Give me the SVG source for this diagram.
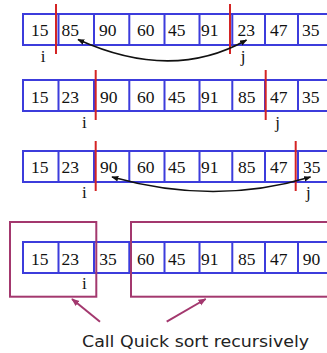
<svg xmlns="http://www.w3.org/2000/svg" width="327" height="353" viewBox="0 0 327 353">
  <style>
    .cell { fill: #ffffff; stroke: #3c3cdc; stroke-width: 2; }
    .div { stroke: #3c3cdc; stroke-width: 2; }
    .num { font-family: "Liberation Serif", "Times New Roman", Times, serif; font-size: 17.5px; fill: #111111; }
    .idx { font-family: "Liberation Serif", "Times New Roman", Times, serif; font-size: 17px; fill: #111111; text-anchor: middle; }
    .ptr { stroke: #d42424; stroke-width: 2; }
    .swap { fill: none; stroke: #111111; stroke-width: 1.6; }
    .part { fill: none; stroke: #a3386e; stroke-width: 2; }
    .call { stroke: #a3386e; stroke-width: 2; }
    .note { font-family: "Comic Sans MS", "DejaVu Sans", sans-serif; font-size: 16px; fill: #222222; }
  </style>
  <defs>
    <marker id="head" viewBox="0 0 10 10" refX="9" refY="5" markerWidth="7" markerHeight="7" markerUnits="userSpaceOnUse" orient="auto-start-reverse">
      <path d="M0,1 L10,5 L0,9 z" fill="#111111"/>
    </marker>
    <marker id="headM" viewBox="0 0 10 10" refX="9" refY="5" markerWidth="8" markerHeight="8" markerUnits="userSpaceOnUse" orient="auto">
      <path d="M0,1 L10,5 L0,9 z" fill="#a3386e"/>
    </marker>
    <!-- array of nine cells, drawn at the origin -->
    <g id="array">
      <rect class="cell" x="23" y="0" width="310" height="31"/>
      <path class="div" d="M58.5,0 V31 M94,0 V31 M129.3,0 V31 M164.5,0 V31 M199.5,0 V31 M232.3,0 V31 M265,0 V31 M298,0 V31"/>
    </g>
  </defs>

  <!-- row 1: 15 85 90 60 45 91 23 47 35 -->
  <g id="row1">
    <use href="#array" y="14"/>
    <text class="num" font-family="Liberation Serif, serif" y="36"><tspan x="31">15</tspan><tspan x="61.5">85</tspan><tspan x="99">90</tspan><tspan x="137">60</tspan><tspan x="168">45</tspan><tspan x="201">91</tspan><tspan x="237.5">23</tspan><tspan x="270">47</tspan><tspan x="302">35</tspan></text>
    <line class="ptr" x1="56" y1="4" x2="56" y2="54"/>
    <line class="ptr" x1="230" y1="4" x2="230" y2="54"/>
    <text class="idx" x="43" y="62">i</text>
    <text class="idx" x="243" y="62">j</text>
  </g>

  <!-- row 2: 15 23 90 60 45 91 85 47 35 -->
  <g id="row2">
    <use href="#array" y="80"/>
    <text class="num" y="102.5"><tspan x="31">15</tspan><tspan x="61.5">23</tspan><tspan x="100">90</tspan><tspan x="137">60</tspan><tspan x="168">45</tspan><tspan x="201">91</tspan><tspan x="238">85</tspan><tspan x="270">47</tspan><tspan x="302">35</tspan></text>
    <line class="ptr" x1="95.7" y1="70" x2="95.7" y2="120"/>
    <line class="ptr" x1="265.7" y1="70" x2="265.7" y2="120"/>
    <text class="idx" x="84.3" y="127.5">i</text>
    <text class="idx" x="277.7" y="127.5">j</text>
  </g>

  <!-- row 3: 15 23 90 60 45 91 85 47 35 -->
  <g id="row3">
    <use href="#array" y="151"/>
    <text class="num" y="173"><tspan x="31">15</tspan><tspan x="61.5">23</tspan><tspan x="100">90</tspan><tspan x="137">60</tspan><tspan x="168">45</tspan><tspan x="201">91</tspan><tspan x="238">85</tspan><tspan x="270">47</tspan><tspan x="303">35</tspan></text>
    <line class="ptr" x1="95.7" y1="141" x2="95.7" y2="191"/>
    <line class="ptr" x1="295.7" y1="141" x2="295.7" y2="191"/>
    <text class="idx" x="84.3" y="197.5">i</text>
    <text class="idx" x="308.3" y="197.5">j</text>
  </g>

  <!-- row 4: 15 23 35 60 45 91 85 47 90 -->
  <g id="row4">
    <use href="#array" y="242"/>
    <text class="num" y="264.5"><tspan x="31">15</tspan><tspan x="61.5">23</tspan><tspan x="99.3">35</tspan><tspan x="137">60</tspan><tspan x="168">45</tspan><tspan x="201">91</tspan><tspan x="238">85</tspan><tspan x="270">47</tspan><tspan x="302.7">90</tspan></text>
    <text class="idx" x="84.3" y="289">i</text>
  </g>

  <!-- sub-arrays handed to the recursive calls -->
  <g id="left-part">
    <rect class="part" x="10" y="222" width="86.3" height="74.7"/>
  </g>
  <g id="right-part">
    <rect class="part" x="131" y="222" width="210" height="74.7"/>
  </g>

  <g id="note">
    <text class="note" x="82" y="346.7" textLength="227" lengthAdjust="spacingAndGlyphs">Call Quick sort recursively</text>
  </g>

  <!-- connectors: swap arrows and call pointers -->
  <g id="connectors">
    <path class="swap" d="M78,39.5 Q172,82 246.5,40" marker-start="url(#head)" marker-end="url(#head)"/>
    <path class="swap" d="M112,177 Q215,206 310.5,177" marker-start="url(#head)" marker-end="url(#head)"/>
    <line class="call" x1="100" y1="321.7" x2="72" y2="299" marker-end="url(#headM)"/>
    <line class="call" x1="166.7" y1="321.7" x2="205.7" y2="299" marker-end="url(#headM)"/>
  </g>
</svg>
